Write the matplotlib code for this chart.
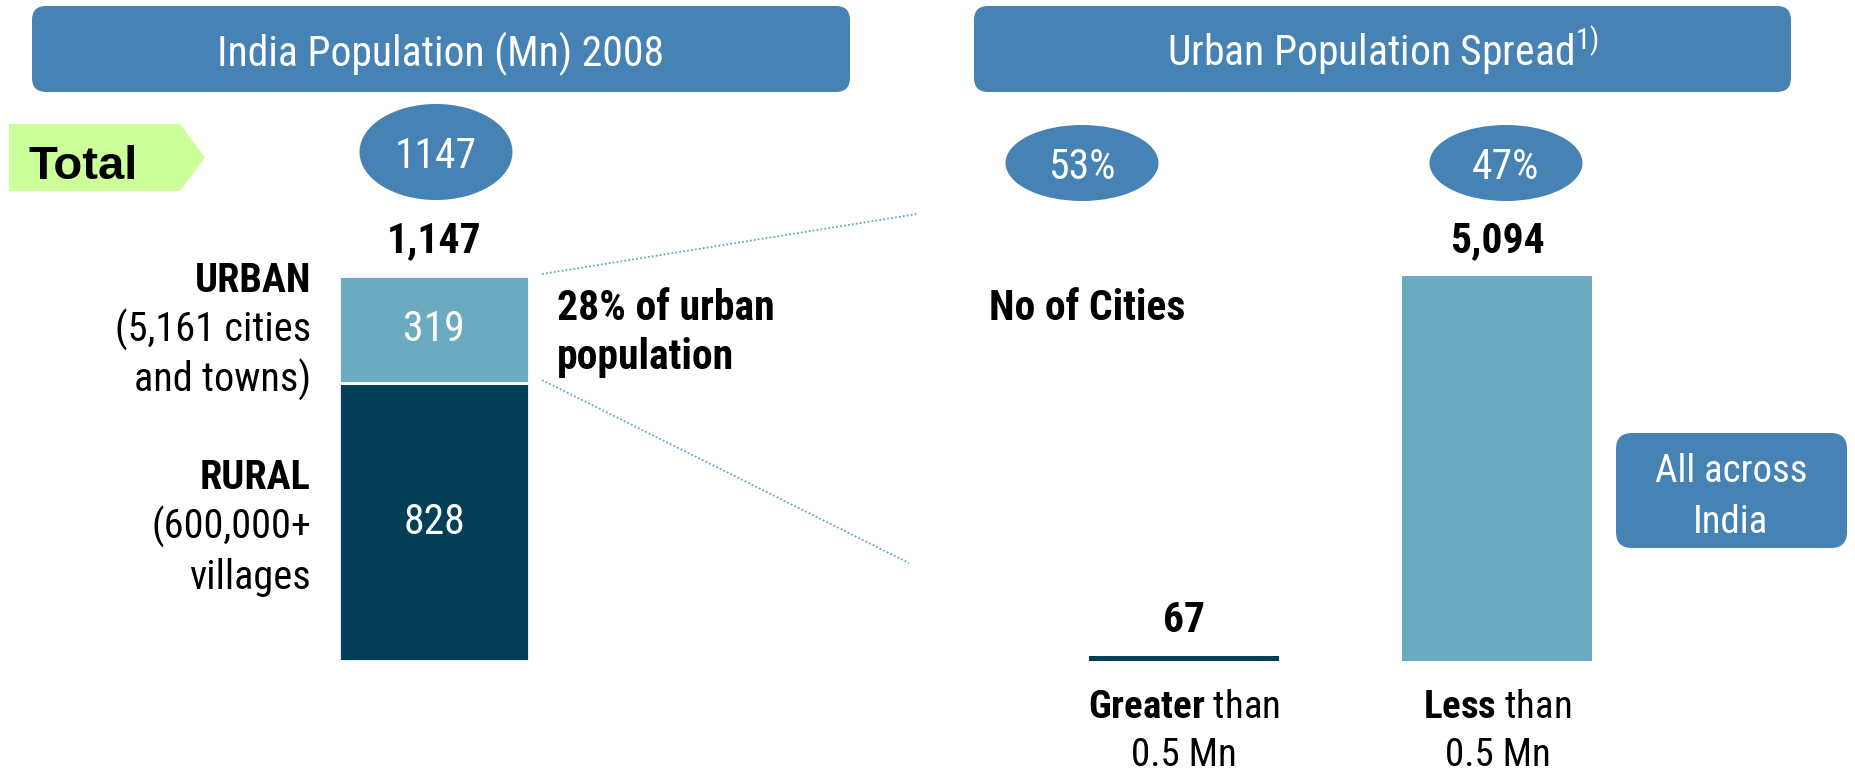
import matplotlib

matplotlib.use("Agg")
import matplotlib.pyplot as plt
import matplotlib.transforms as mtransforms
from matplotlib import font_manager
from matplotlib.patches import Ellipse, FancyBboxPatch, Polygon

# population split, millions (2008)
pop_segments = ["URBAN", "RURAL"]
pop_values = [319, 828]
pop_total = 1147
pop_notes = [["URBAN", "(5,161 cities", "and towns)"], ["RURAL", "(600,000+", "villages"]]

# number of urban settlements by size
city_groups = [r"$\mathbf{Greater}$ than", r"$\mathbf{Less}$ than"]
city_group_sub = ["0.5 Mn", "0.5 Mn"]
city_counts = [67, 5094]
city_share = ["53%", "47%"]

DARK = "#033f56"
LIGHT = "#6caac0"
BLUE = "#4682b4"
GREEN = "#ccff99"
BOLD = 600

names = {f.name for f in font_manager.fontManager.ttflist}
NARROW = next((n for n in ["Liberation Sans Narrow", "Roboto Condensed", "Archivo Narrow"] if n in names),
              "Liberation Sans")
plt.rcParams["font.family"] = [NARROW, "DejaVu Sans"]
plt.rcParams["mathtext.fontset"] = "custom"
plt.rcParams["mathtext.rm"] = NARROW
plt.rcParams["mathtext.bf"] = NARROW + ":semibold"
plt.rcParams["mathtext.default"] = "rm"

W, H = 1856, 774
fig = plt.figure(figsize=(W / 100, H / 100), dpi=100)
bg = fig.add_axes([0, 0, 1, 1])
bg.set_xlim(0, W)
bg.set_ylim(H, 0)
bg.axis("off")

# bar panels (pixel layout)
BASE_Y, TOP_Y = 661, 276
BAR_PX = 190


def panel(x0, x1):
    ax = fig.add_axes([x0 / W, (H - BASE_Y) / H, (x1 - x0) / W, (BASE_Y - TOP_Y) / H])
    ax.axis("off")
    return ax


ax_l = panel(339, 529)
ax_l.set_xlim(-0.5, 0.5)
ax_l.set_ylim(0, pop_total)
bottom = 0
for seg, val, col in zip(pop_segments[::-1], pop_values[::-1], [DARK, LIGHT]):
    ax_l.bar(0, val, width=1, bottom=bottom, color=col, edgecolor="white", linewidth=2)
    ax_l.text(0, bottom + val / 2, f"{val}", ha="center", va="center", color="white", fontsize=30)
    bottom += val
ax_l.annotate(f"{pop_total:,}", (0, pop_total), xytext=(0, 17), textcoords="offset points",
              ha="center", va="baseline", fontsize=30, fontweight=BOLD, annotation_clip=False)

spacing = 313.5
w_frac = BAR_PX / spacing
ax_r = panel(1089, 1089 + spacing + BAR_PX)
ax_r.set_xlim(-w_frac / 2, 1 + w_frac / 2)
ax_r.set_ylim(0, max(city_counts))
xs = list(range(len(city_counts)))
ax_r.bar(xs, city_counts, width=w_frac, color=[DARK, LIGHT])
for x, v in zip(xs, city_counts):
    ax_r.annotate(f"{v:,}", (x, v), xytext=(0, 17), textcoords="offset points",
                  ha="center", va="baseline", fontsize=30, fontweight=BOLD, annotation_clip=False)

blend = mtransforms.blended_transform_factory(ax_r.transData, bg.transData)
for x, top, sub in zip(xs, city_groups, city_group_sub):
    bg.text(x, 718, top, transform=blend, ha="center", va="baseline", fontsize=28)
    bg.text(x, 766, sub, transform=blend, ha="center", va="baseline", fontsize=28)

# headers
for x0, x1, label in [(32, 850, "India Population (Mn) 2008"),
                      (974, 1791, r"Urban Population Spread$^{1)}$")]:
    bg.add_patch(FancyBboxPatch((x0, 6), x1 - x0, 86, boxstyle="round,pad=0,rounding_size=14",
                                fc=BLUE, ec="none"))
    bg.text((x0 + x1) / 2, 66, label, ha="center", va="baseline", color="white", fontsize=30)

# "Total" tag
bg.add_patch(Polygon([(9, 124), (180, 124), (205, 157.5), (180, 191), (9, 191)],
                     closed=True, fc=GREEN, ec="none"))
bg.text(29, 179, "Total", ha="left", va="baseline", fontsize=34, fontweight="bold",
        family=["Liberation Sans", "DejaVu Sans"])

# share ovals
for cx, cy, ew, eh, txt in [(436, 152, 153, 96, f"{pop_total}"),
                            (1082, 163, 153, 76, city_share[0]),
                            (1506, 163, 153, 76, city_share[1])]:
    bg.add_patch(Ellipse((cx, cy), ew, eh, fc=BLUE, ec="none"))
    bg.text(cx, cy, txt, ha="center", va="center_baseline", color="white", fontsize=30)

# segment notes left of the stacked bar
for lines, baseline in zip(pop_notes, [292, 489]):
    for i, line in enumerate(lines):
        bg.text(311, baseline + i * 50, line, ha="right", va="baseline", fontsize=29,
                fontweight=BOLD if i == 0 else "normal")

bg.text(557, 320, "28% of urban", ha="left", va="baseline", fontsize=30, fontweight=BOLD)
bg.text(557, 369, "population", ha="left", va="baseline", fontsize=30, fontweight=BOLD)
bg.text(989, 320, "No of Cities", ha="left", va="baseline", fontsize=30, fontweight=BOLD)

# dotted zoom lines from the urban segment
bg.plot([542, 917], [274, 214], ls=(0, (1, 1.2)), lw=1.3, color="#5fa8c8")
bg.plot([542, 909], [380, 563], ls=(0, (1, 1.2)), lw=1.3, color="#5fa8c8")

# side tag
bg.add_patch(FancyBboxPatch((1616, 433), 231, 115, boxstyle="round,pad=0,rounding_size=16",
                            fc=BLUE, ec="none"))
bg.text(1731, 482, "All across", ha="center", va="baseline", color="white", fontsize=28)
bg.text(1731, 533, "India", ha="center", va="baseline", color="white", fontsize=28)

fig.savefig("out.png", dpi=100)
